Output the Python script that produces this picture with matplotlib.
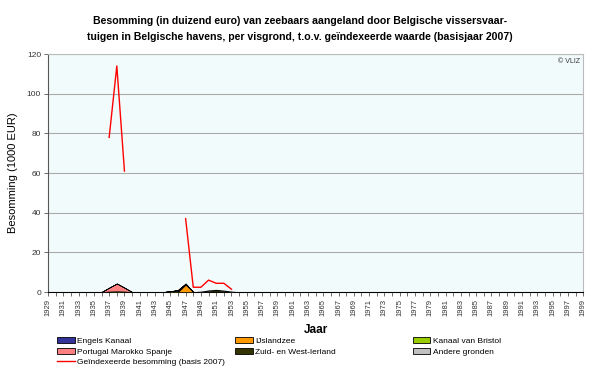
import numpy as np
import matplotlib.pyplot as plt
from matplotlib.patches import Patch
from matplotlib.lines import Line2D

plt.rcParams['font.family'] = ['Liberation Sans', 'DejaVu Sans']

years = list(range(1929, 2000))

# besomming per visgrond (1000 EUR), alleen jaren met vangst
engels_kanaal = {}
ijslandzee = {1947: 3.8}
kanaal_bristol = {1937: 0.3, 1938: 0.4, 1939: 0.3, 1945: 0.4, 1946: 0.5}
portugal = {1937: 1.9, 1938: 3.9, 1939: 1.9}
zuid_west_ierland = {1946: 0.6, 1947: 0.5, 1950: 0.6, 1951: 0.9, 1952: 0.5}
andere = {1949: 0.3, 1950: 0.3, 1951: 0.3, 1952: 0.3, 1953: 0.3}
geindexeerd = {1937: 78, 1938: 114, 1939: 61,
               1947: 37, 1948: 2.4, 1949: 2.4, 1950: 6, 1951: 4.4, 1952: 4.4, 1953: 1.4}

names = ['Engels Kanaal', 'IJslandzee', 'Kanaal van Bristol',
         'Portugal Marokko Spanje', 'Zuid- en West-Ierland', 'Andere gronden']
series = [engels_kanaal, ijslandzee, kanaal_bristol, portugal, zuid_west_ierland, andere]
colors = ['#333399', '#FF9900', '#99CC00', '#FF8080', '#333300', '#C0C0C0']

x = np.array(years)
stack = [[s.get(y, 0) for y in years] for s in series]
red = [geindexeerd.get(y, np.nan) for y in years]

fig = plt.figure(figsize=(6, 3.68), dpi=100)
ax = fig.add_axes([0.08, 0.2065, 0.892, 0.6465])
ax.set_facecolor('#F2FBFB')

ax.stackplot(x, stack, colors=colors, edgecolor='black', linewidth=0.4, zorder=3)
ax.plot(x, red, color='red', linewidth=1.0, zorder=4)

ax.set_xlim(1929, 1999)
ax.set_ylim(0, 120)
ax.set_yticks(range(0, 121, 20))
ax.yaxis.grid(True, color='#AAAAAA', linewidth=0.8, zorder=1)
ax.set_axisbelow(True)
ax.set_xticks(years, minor=True)
ax.set_xticks(years[::2])
ax.set_xticklabels([str(y) for y in years[::2]], rotation=90)
ax.tick_params(axis='x', which='both', length=3, width=0.6, color='#555555',
               labelsize=5.5, labelcolor='#333333', pad=2)
ax.tick_params(axis='y', length=3, width=0.6, color='#555555',
               labelsize=6, labelcolor='#333333', pad=2)
for side in ['top', 'right']:
    ax.spines[side].set_color('#BBBBBB')
for side in ['left', 'bottom']:
    ax.spines[side].set_color('#555555')

ax.set_ylabel('Besomming (1000 EUR)', fontsize=8, labelpad=6)
ax.set_xlabel('Jaar', fontsize=8.5, fontweight='bold', labelpad=6)
ax.text(0.995, 0.985, '© VLIZ', transform=ax.transAxes, ha='right', va='top',
        fontsize=5, color='#333333')

fig.text(0.5, 0.957, 'Besomming (in duizend euro) van zeebaars aangeland door Belgische vissersvaar-\n'
         'tuigen in Belgische havens, per visgrond, t.o.v. geïndexeerde waarde (basisjaar 2007)',
         ha='center', va='top', fontsize=7.6, fontweight='bold', linespacing=1.75)

handles = [Patch(facecolor=c, edgecolor='black', linewidth=0.6) for c in colors]
red_handle = Line2D([], [], color='red', linewidth=1.0)
cols = [([handles[0], handles[3], red_handle], [names[0], names[3], 'Geïndexeerde besomming (basis 2007)'], 0.095),
        ([handles[1], handles[4]], [names[1], names[4]], 0.392),
        ([handles[2], handles[5]], [names[2], names[5]], 0.688)]
for h, l, xpos in cols:
    fig.legend(h, l, loc='upper left', bbox_to_anchor=(xpos, 0.083), frameon=False,
               fontsize=6, handlelength=2.1, handleheight=0.7, handletextpad=0.3,
               labelspacing=0.3, borderpad=0, borderaxespad=0)

fig.savefig('out.png', dpi=100)
